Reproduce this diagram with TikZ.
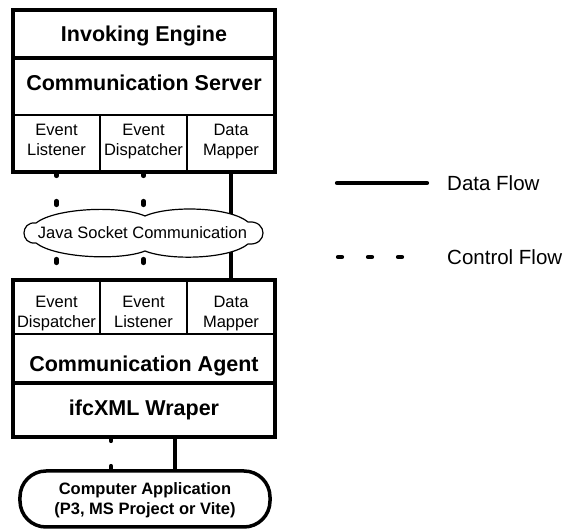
\documentclass[tikz,border=0pt]{standalone}
\usepackage{fontspec}
\setmainfont{Liberation Sans}
\pgfdeclarelayer{bg}
\pgfsetlayers{bg,main}
\begin{document}
\begin{tikzpicture}[x=1bp,y=1bp,
  thickline/.style={line width=3.5bp},
  thinline/.style={line width=1.2bp},
  cell/.style={draw, thinline, fill=white, inner sep=0pt, outer sep=0pt},
  bigtxt/.style={inner sep=0pt, font=\bfseries\fontsize{21.5bp}{24bp}\selectfont},
  smalltxt/.style={inner sep=0pt, align=center, font=\fontsize{16.5bp}{20bp}\selectfont},
  apptxt/.style={inner sep=0pt, align=center, font=\bfseries\fontsize{16.5bp}{20bp}\selectfont},
  legtxt/.style={inner sep=0pt, anchor=west, font=\fontsize{20.5bp}{24bp}\selectfont},
  dataflow/.style={line width=4.2bp},
  ctrlflow/.style={line width=4.2bp, line cap=round, dash pattern=on 4bp off 25bp},
]
\useasboundingbox (0,0) rectangle (568,529);

% ---------- top box ----------
\node[cell, minimum width=262bp, minimum height=48bp] (ie) at (144,495) {};
\node[cell, minimum width=262bp, minimum height=57bp] (cs) at (144,442.5) {};
\node[cell, minimum width=87bp, minimum height=57bp] (el1) at (56.5,385.5) {};
\node[cell, minimum width=87bp, minimum height=57bp] (ed1) at (143.5,385.5) {};
\node[cell, minimum width=88bp, minimum height=57bp] (dm1) at (231,385.5) {};
\draw[thickline] (13,357) rectangle (275,519);
\draw[thickline] (13,471) -- (275,471);
\node[bigtxt] (iet) at (144,493) {Invoking Engine};
\node[bigtxt] (cst) at (144,446) {Communication Server};
\node[smalltxt] (el1t) at (56.5,387) {Event\strut\\Listener\strut};
\node[smalltxt] (ed1t) at (143.5,387) {Event\strut\\Dispatcher\strut};
\node[smalltxt] (dm1t) at (231,387) {Data\strut\\Mapper\strut};

% ---------- bottom box ----------
\node[cell, minimum width=87bp, minimum height=54bp] (ed2) at (56.5,222) {};
\node[cell, minimum width=87bp, minimum height=54bp] (el2) at (143.5,222) {};
\node[cell, minimum width=88bp, minimum height=54bp] (dm2) at (231,222) {};
\node[cell, minimum width=262bp, minimum height=49bp] (ca) at (144,170.5) {};
\node[cell, minimum width=262bp, minimum height=54bp] (wr) at (144,119) {};
\draw[thickline] (13,92) rectangle (275,249);
\draw[thickline] (13,146) -- (275,146);
\node[smalltxt] (ed2t) at (56.5,215) {Event\strut\\Dispatcher\strut};
\node[smalltxt] (el2t) at (143.5,215) {Event\strut\\Listener\strut};
\node[smalltxt] (dm2t) at (231,215) {Data\strut\\Mapper\strut};
\node[bigtxt] (cat) at (144,163) {Communication Agent};
\node[bigtxt] (wrt) at (144,119) {ifcXML Wraper};

% ---------- application ----------
\node[draw, thickline, fill=white, rounded corners=26bp, minimum width=250bp, minimum height=56bp, inner sep=0pt] (app) at (145,30) {};
\node[apptxt] (appt) at (145,28) {Computer Application\strut\\(P3, MS Project or Vite)\strut};

% ---------- cloud ----------
\draw[thinline, fill=white]
  (36,306) .. controls (55,321) and (120,324) .. (145,313)
  .. controls (170,324) and (230,322) .. (248,307)
  .. controls (268,309) and (268,283) .. (248,285)
  .. controls (230,270) and (170,268) .. (145,278)
  .. controls (120,268) and (55,271) .. (36,286)
  .. controls (20,284) and (20,308) .. (36,306) -- cycle;
\node[smalltxt] (jsc) at (142.5,296) {Java Socket Communication};

% ---------- connectors ----------
\begin{pgfonlayer}{bg}
\draw[ctrlflow] (el1.south) -- (ed2.north);
\draw[ctrlflow] (ed1.south) -- (el2.north);
\draw[dataflow] (dm1.south) -- (dm2.north);
\draw[ctrlflow] ([xshift=-33bp]wr.south) -- ([xshift=-33bp]wr.south |- app.north);
\draw[dataflow] ([xshift=31bp]wr.south) -- ([xshift=31bp]wr.south |- app.north);
\end{pgfonlayer}

% ---------- legend ----------
\coordinate (dfa) at (337,346);
\coordinate (dfb) at (427,346);
\draw[dataflow, line cap=round] (dfa) -- (dfb);
\node[legtxt] (dft) at (447,346) {Data Flow};
\coordinate (cfa) at (338,272);
\coordinate (cfb) at (402,272);
\draw[ctrlflow, dash pattern=on 4bp off 26bp] (cfa) -- (cfb);
\node[legtxt] (cft) at (447,272) {Control Flow};
\end{tikzpicture}
\end{document}
